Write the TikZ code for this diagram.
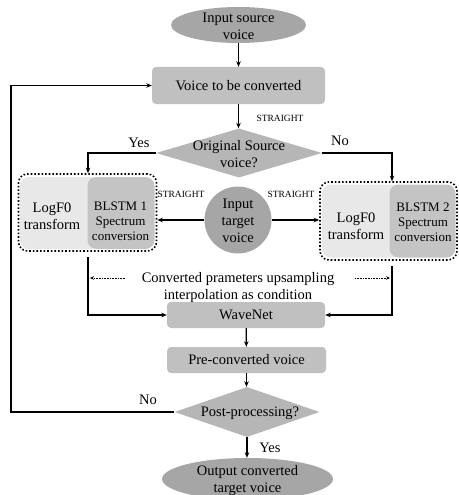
\documentclass[tikz,border=0pt]{standalone}
\usepackage{fontspec}
\setmainfont{Liberation Serif}
\usetikzlibrary{shapes.geometric,arrows.meta}
\definecolor{termgray}{RGB}{166,166,166}
\definecolor{boxgray}{RGB}{192,192,192}
\definecolor{diagray}{RGB}{182,182,182}
\definecolor{lightpart}{RGB}{232,232,232}
\definecolor{darkpart}{RGB}{196,196,196}
\tikzset{
  mainfont/.style={font=\fontsize{14.5}{17}\selectfont},
  terminal/.style={ellipse, fill=termgray, draw=none, inner sep=0pt},
  procbox/.style={rectangle, rounded corners=4pt, fill=boxgray, draw=none, mainfont},
  decision/.style={diamond, fill=diagray, draw=none, inner sep=0pt},
  group/.style={rectangle, rounded corners=9pt, draw=black, line width=1.6pt, dotted, inner sep=0pt},
  lpart/.style={rectangle, rounded corners=9pt, fill=lightpart, draw=none, inner sep=0pt},
  dpart/.style={rectangle, rounded corners=9pt, fill=darkpart, draw=none, inner sep=0pt},
  txt/.style={align=center, mainfont, inner sep=0pt},
  smalltxt/.style={align=center, font=\fontsize{13}{15}\selectfont, inner sep=0pt},
  tag/.style={font=\fontsize{9.5}{11}\selectfont, inner sep=0pt},
  flow/.style={line width=1.3pt, -{Stealth[length=5.5pt,width=4.5pt]}},
  dotflow/.style={line width=0.6pt, densely dotted, -{Stealth[length=4pt,width=3.5pt]}}
}
\begin{document}
\begin{tikzpicture}[x=1pt,y=-1pt]
\useasboundingbox (0,0) rectangle (458,495);
% terminals
\node[terminal, minimum width=135pt, minimum height=36pt] (in) at (238.5,25) {};
\node[txt] (intx) at (238.5,26) {Input source\\voice};
\node[procbox, minimum width=173pt, minimum height=37pt] (vc) at (238.5,85.5) {Voice to be converted};
\node[decision, minimum width=166pt, minimum height=49pt] (d1) at (239,153) {};
\node[txt] (d1tx) at (239,154) {Original Source\\voice?};
% left group
\node[lpart, minimum width=80pt, minimum height=72pt] (lf1) at (60,213) {};
\node[dpart, minimum width=67pt, minimum height=72pt] (bl1) at (121,213) {};
\node[group, minimum width=138pt, minimum height=77pt] (g1) at (87.5,212.5) {};
\node[txt] (lf1tx) at (52,216) {LogF0\\transform};
\node[smalltxt] (bl1tx) at (120.5,221) {BLSTM 1\\Spectrum\\conversion};
% right group
\node[lpart, minimum width=80pt, minimum height=73pt] (lf2) at (362,221) {};
\node[dpart, minimum width=66pt, minimum height=73pt] (bl2) at (422.5,221) {};
\node[group, minimum width=137pt, minimum height=78pt] (g2) at (388.5,221) {};
\node[txt] (lf2tx) at (356,226) {LogF0\\transform};
\node[smalltxt] (bl2tx) at (423,222) {BLSTM 2\\Spectrum\\conversion};
% target voice
\node[circle, fill=termgray, minimum size=67pt, inner sep=0pt] (tv) at (238,220) {};
\node[txt] (tvtx) at (238,221) {Input\\target\\voice};
% condition text
\node[txt] (cond) at (238,288) {Converted prameters upsampling\\interpolation as condition};
% lower chain
\node[procbox, minimum width=158pt, minimum height=26pt] (wn) at (246,315) {WaveNet};
\node[procbox, minimum width=159pt, minimum height=26pt] (pc) at (246.5,360) {Pre-converted voice};
\node[decision, minimum width=145pt, minimum height=50pt] (d2) at (247,412) {};
\node[txt] (d2tx) at (250,413) {Post-processing?};
\node[terminal, minimum width=171pt, minimum height=42pt] (out) at (247.5,479) {};
\node[txt] (outtx) at (247.5,481) {Output converted\\target voice};
% labels
\node[tag] (s0) at (280,118) {STRAIGHT};
\node[tag] (s1) at (181,194) {STRAIGHT};
\node[tag] (s2) at (291,194) {STRAIGHT};
\node[txt] (yes1) at (139,143) {Yes};
\node[txt] (no1) at (340,141) {No};
\node[txt] (no2) at (148,400) {No};
\node[txt] (yes2) at (270,448) {Yes};
% coordinates
\coordinate (l1) at (88,257);
\coordinate (r1) at (392,266);
\coordinate (lp) at (11,412);
\coordinate (dl0) at (125,278);
\coordinate (dl1) at (90,278);
\coordinate (dr0) at (355,278);
\coordinate (dr1) at (390,278);
% connectors
\draw[flow] (in) -- (vc);
\draw[flow] (vc) -- (vc.south |- d1.north);
\draw[flow] (d1.west) -| ([xshift=0.5pt]g1.north);
\draw[flow] (d1.east) -| ([xshift=3.5pt]g2.north);
\draw[flow] (tv.west) -- (tv.west -| g1.east);
\draw[flow] (tv.east) -- (tv.east -| g2.west);
\draw[flow] (l1) |- (wn.west);
\draw[flow] (r1) |- (wn.east);
\draw[dotflow] (dl0) -- (dl1);
\draw[dotflow] (dr0) -- (dr1);
\draw[flow] (wn) -- (pc);
\draw[flow] (pc.south) -- (pc.south |- d2.north);
\draw[flow] (d2.south) -- (d2.south |- out.north);
\draw[flow] (d2.west) -- (lp) |- (vc.west);
\end{tikzpicture}
\end{document}
